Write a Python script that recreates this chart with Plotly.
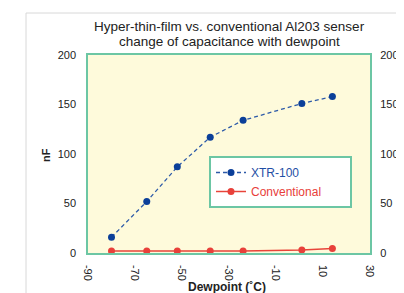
import plotly.graph_objects as go

dewpoint_xtr = [-80, -65, -52, -38, -24, 1, 14]
cap_xtr = [16, 52, 87, 117, 134, 151, 158]
dewpoint_conv = [-80, -65, -52, -38, -24, 1, 14]
cap_conv = [2, 2, 2, 2, 2, 3, 4.5]
x_ticks = [-90, -70, -50, -30, -10, 10, 30]
y_ticks = [0, 50, 100, 150, 200]

# figure is offset by the page's 8px body margin; sizes compensate for it
W, H = 396, 285
L, R, T, B = 80, 34, 47, 40
PW, PH = W - L - R, H - T - B


def px(xw):
    return (xw - 8 - L) / PW


def py(yw):
    return (H - B - (yw - 8)) / PH


fig = go.Figure()
fig.add_trace(go.Scatter(
    x=dewpoint_xtr, y=cap_xtr, mode="lines+markers",
    name="<span style='color:#1f4fa5'>XTR-100</span>",
    line=dict(color="#2d5aa8", width=1.3, dash="4px,3px"),
    marker=dict(color="#0b3f99", size=7)))
fig.add_trace(go.Scatter(
    x=dewpoint_conv, y=cap_conv, mode="lines+markers",
    name="<span style='color:#e8403a'>Conventional</span>" + "&nbsp;" * 7,
    line=dict(color="#e8443a", width=1.5),
    marker=dict(color="#e8403a", size=7)))
fig.add_trace(go.Scatter(x=[dewpoint_xtr[0]], y=[cap_xtr[0]], yaxis="y2",
                         mode="markers", marker=dict(opacity=0),
                         showlegend=False, hoverinfo="skip"))

FONT = "Liberation Sans, Arial, sans-serif"
axis_font = dict(family=FONT, size=11, color="#222")
tick_common = dict(ticks="outside", tickcolor="rgba(0,0,0,0)", tickfont=axis_font,
                   showgrid=False, zeroline=False, automargin=False)
fig.update_layout(
    width=W, height=H,
    margin=dict(l=L, r=R, t=T, b=B),
    paper_bgcolor="white",
    plot_bgcolor="#fefadb",
    font=dict(family=FONT, size=11, color="#222"),
    xaxis=dict(range=[-90, 30], tickvals=x_ticks, ticktext=[str(v) for v in x_ticks],
               tickangle=90, ticklen=8, showline=True, linecolor="#6cc6a4", linewidth=1.5,
               mirror=True, **tick_common),
    yaxis=dict(range=[0, 200], tickvals=y_ticks, ticklen=8,
               showline=True, linecolor="#6cc6a4", linewidth=1.5, mirror=True,
               **tick_common),
    yaxis2=dict(range=[0, 200], tickvals=y_ticks, overlaying="y", side="right",
                ticklen=7, showline=False, **tick_common),
    legend=dict(x=px(209), y=py(156), xanchor="left", yanchor="top",
                bgcolor="white", bordercolor="#6cc6a4", borderwidth=2,
                font=dict(size=12)),
    showlegend=True,
)

title_lines = ["Hyper-thin-film vs. conventional Al203 senser",
               "change of capacitance with dewpoint"]
for txt, yw in zip(title_lines, [26, 42]):
    fig.add_annotation(text=txt, xref="paper", yref="paper", x=0.5, y=py(yw),
                       xanchor="center", yanchor="middle", showarrow=False,
                       font=dict(size=13.5, color="#222", family=FONT))
fig.add_annotation(text="<b>Dewpoint (˚C)</b>", xref="paper", yref="paper",
                   x=px(227), y=py(287), xanchor="center", yanchor="middle",
                   showarrow=False, font=dict(size=12, color="#222", family=FONT))
fig.add_annotation(text="<b>nF</b>", xref="paper", yref="paper", textangle=-90,
                   x=px(46), y=py(155), xanchor="center", yanchor="middle",
                   showarrow=False, font=dict(size=11, color="#222", family=FONT))

fig.add_shape(type="rect", xref="paper", yref="paper",
              x0=px(26), x1=1.3, y0=-0.4, y1=py(13),
              line=dict(color="#d8d8d8", width=1), fillcolor="rgba(0,0,0,0)", layer="below")

fig.write_html("out.html")
